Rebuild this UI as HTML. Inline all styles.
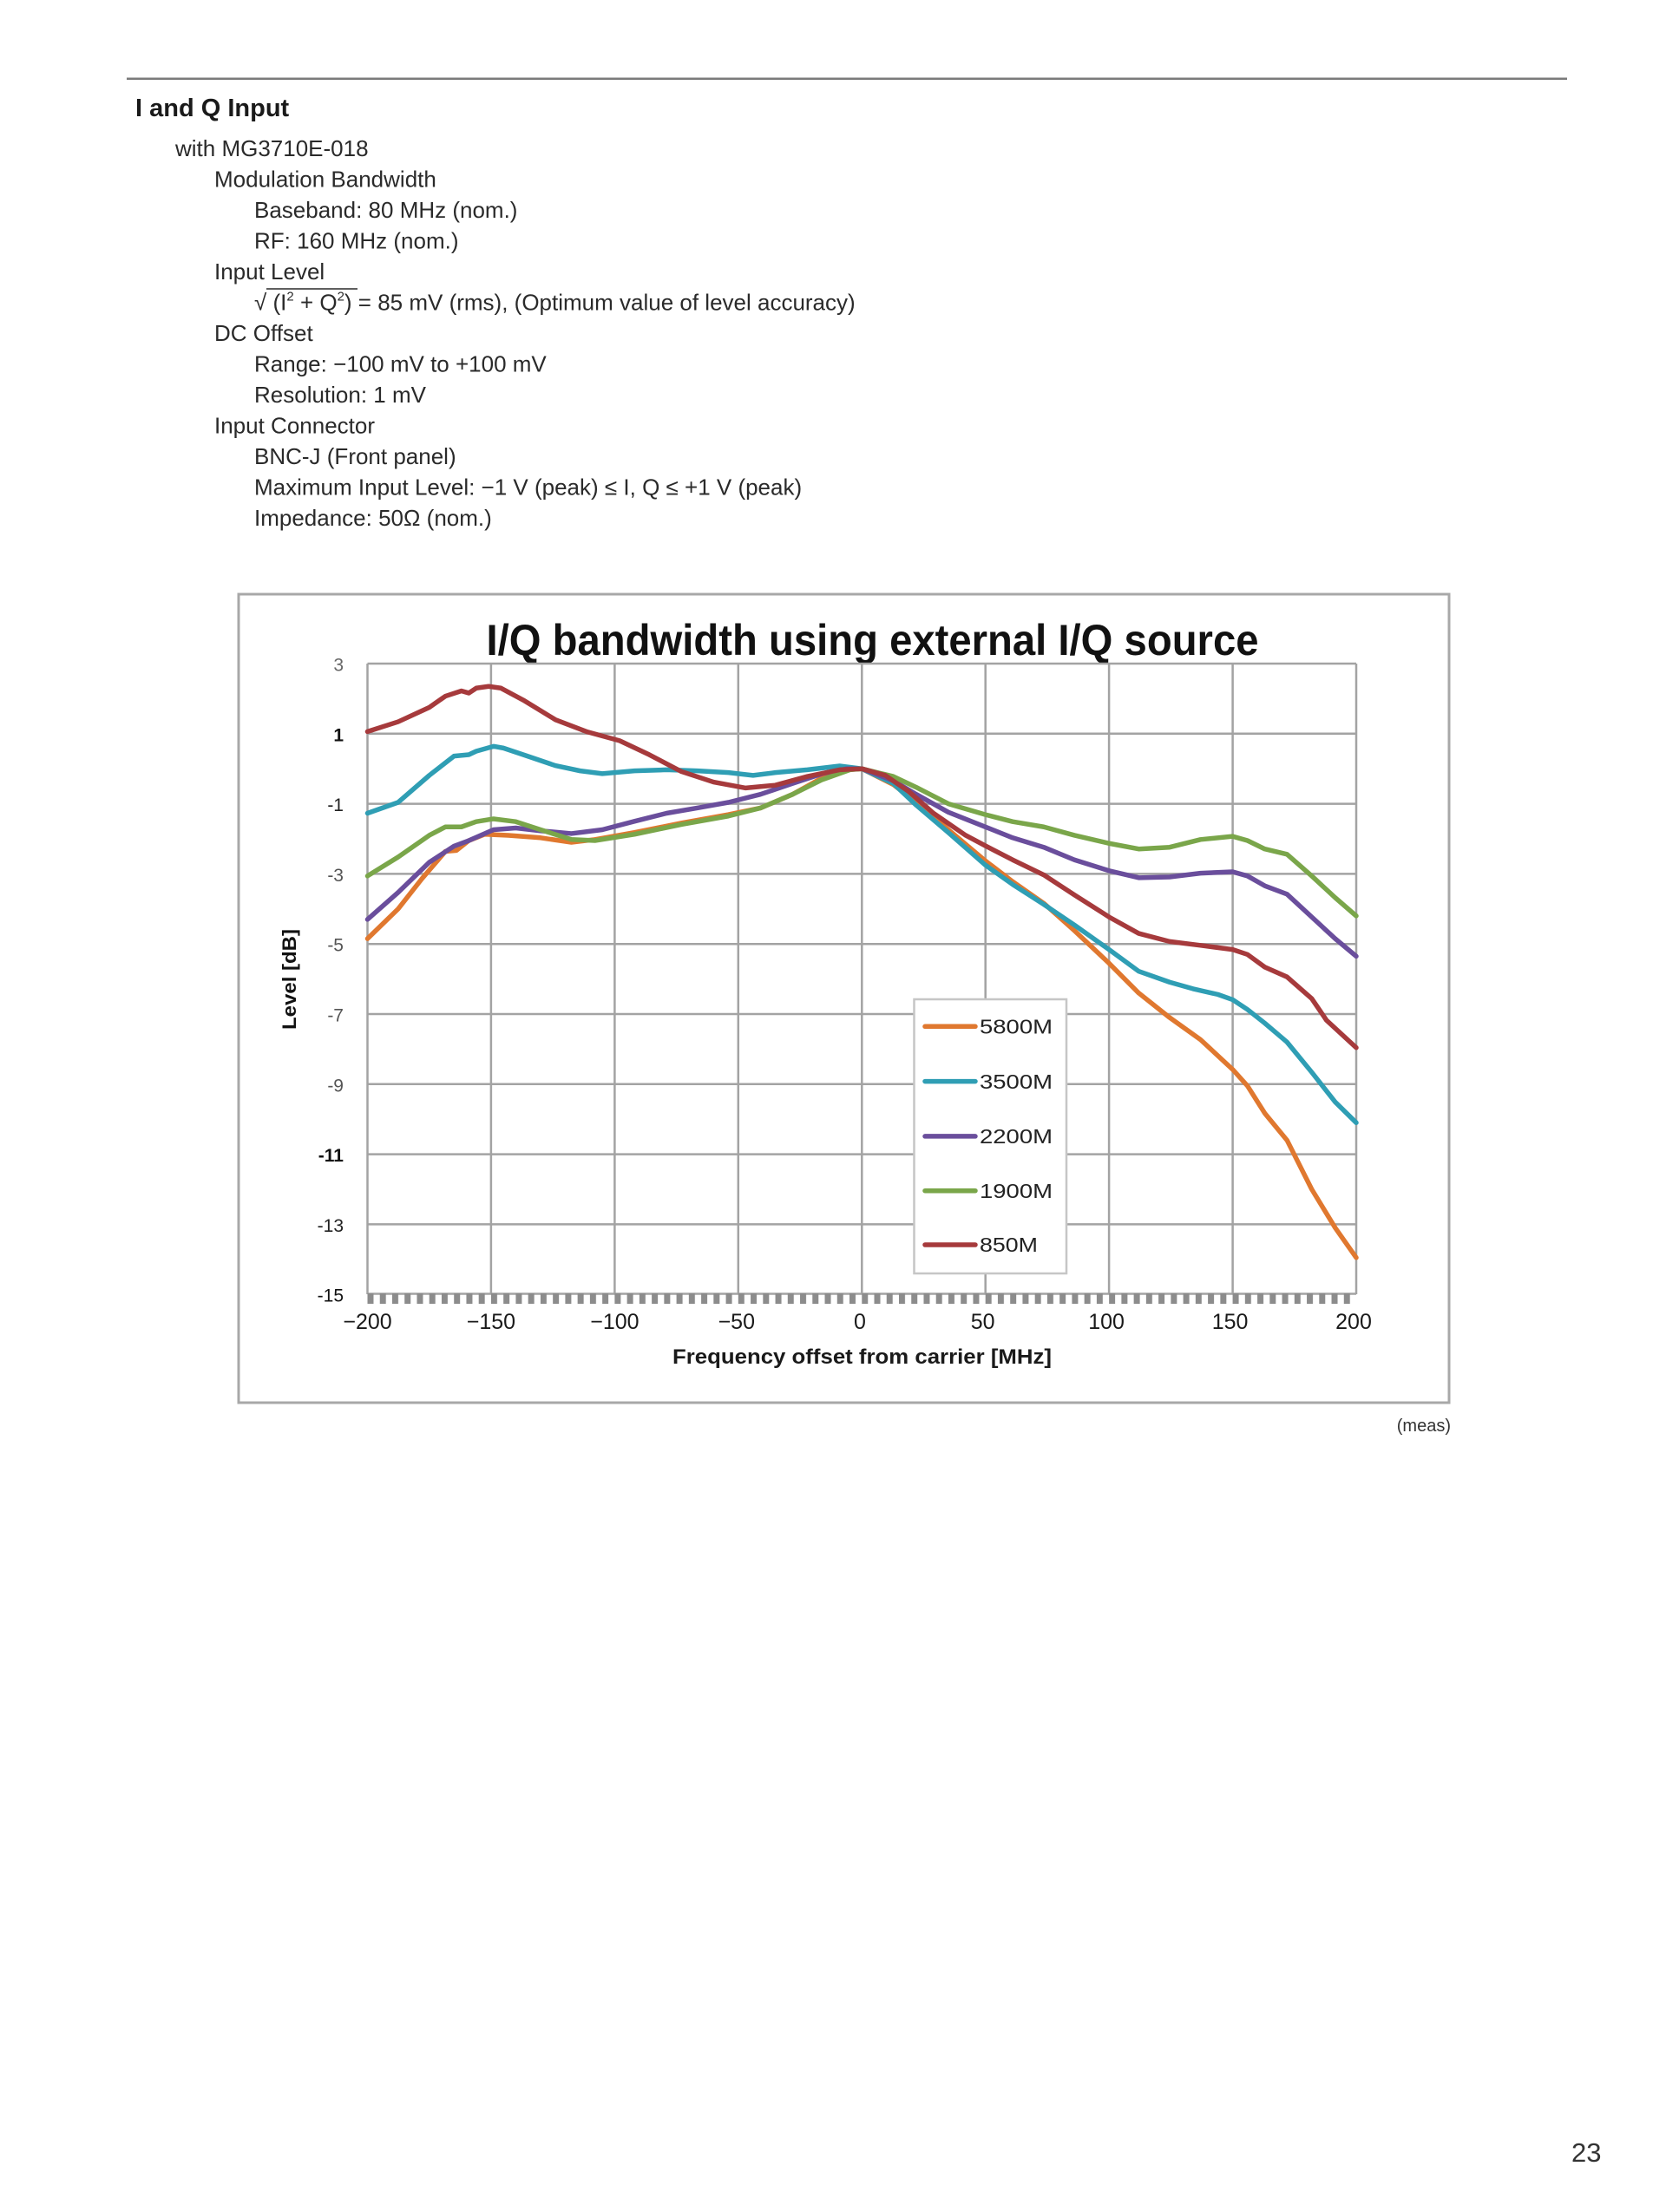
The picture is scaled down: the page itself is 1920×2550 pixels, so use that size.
<!DOCTYPE html>
<html>
<head>
<meta charset="utf-8">
<style>
html,body{margin:0;padding:0;background:#fff;}
svg{display:block;}
</style>
</head>
<body>
<svg width="1920" height="2550" viewBox="0 0 1920 2550" xmlns="http://www.w3.org/2000/svg" font-family="'Liberation Sans', Arial, sans-serif">
  <rect x="0" y="0" width="1920" height="2550" fill="#ffffff"/>

  <!-- header rule -->
  <line x1="146" y1="90.7" x2="1806" y2="90.7" stroke="#7a7a7a" stroke-width="2.5"/>

  <!-- heading -->
  <text x="156" y="134" font-size="29" font-weight="bold" fill="#1a1a1a">I and Q Input</text>

  <!-- body text -->
  <g font-size="26" fill="#2a2a2a">
    <text x="202" y="180">with MG3710E-018</text>
    <text x="247" y="215.5">Modulation Bandwidth</text>
    <text x="293" y="251">Baseband: 80 MHz (nom.)</text>
    <text x="293" y="286.5">RF: 160 MHz (nom.)</text>
    <text x="247" y="322">Input Level</text>
    <text x="293" y="357.5">√ (I<tspan font-size="15" dy="-11">2</tspan><tspan dy="11"> + Q</tspan><tspan font-size="15" dy="-11">2</tspan><tspan dy="11">)  = 85 mV (rms), (Optimum value of level accuracy)</tspan></text>
    <line x1="307" y1="333" x2="412" y2="333" stroke="#2a2a2a" stroke-width="1.5"/>
    <text x="247" y="393">DC Offset</text>
    <text x="293" y="428.5">Range: −100 mV to +100 mV</text>
    <text x="293" y="464">Resolution: 1 mV</text>
    <text x="247" y="499.5">Input Connector</text>
    <text x="293" y="535">BNC-J (Front panel)</text>
    <text x="293" y="570.5">Maximum Input Level: −1 V (peak) ≤ I, Q ≤ +1 V (peak)</text>
    <text x="293" y="606">Impedance: 50Ω (nom.)</text>
  </g>

  <!-- chart frame -->
  <rect x="275" y="685" width="1395" height="932" fill="#ffffff" stroke="#a8a8a8" stroke-width="3"/>

  <!-- title -->
  <text x="560.5" y="755" font-size="50" font-weight="bold" fill="#111" textLength="890" lengthAdjust="spacingAndGlyphs">I/Q bandwidth using external I/Q source</text>

  <!-- gridlines -->
  <g stroke="#a3a3a3" stroke-width="2.5" fill="none">
    <line x1="423.5" y1="765" x2="1563" y2="765"/>
    <line x1="423.5" y1="845.8" x2="1563" y2="845.8"/>
    <line x1="423.5" y1="926.6" x2="1563" y2="926.6"/>
    <line x1="423.5" y1="1007.4" x2="1563" y2="1007.4"/>
    <line x1="423.5" y1="1088.2" x2="1563" y2="1088.2"/>
    <line x1="423.5" y1="1169" x2="1563" y2="1169"/>
    <line x1="423.5" y1="1249.8" x2="1563" y2="1249.8"/>
    <line x1="423.5" y1="1330.6" x2="1563" y2="1330.6"/>
    <line x1="423.5" y1="1411.4" x2="1563" y2="1411.4"/>
    <line x1="423.5" y1="1491.5" x2="1563" y2="1491.5"/>
    <line x1="423.5" y1="765" x2="423.5" y2="1492"/>
    <line x1="565.9" y1="765" x2="565.9" y2="1492"/>
    <line x1="708.4" y1="765" x2="708.4" y2="1492"/>
    <line x1="850.8" y1="765" x2="850.8" y2="1492"/>
    <line x1="993.3" y1="765" x2="993.3" y2="1492"/>
    <line x1="1135.7" y1="765" x2="1135.7" y2="1492"/>
    <line x1="1278.1" y1="765" x2="1278.1" y2="1492"/>
    <line x1="1420.6" y1="765" x2="1420.6" y2="1492"/>
    <line x1="1563" y1="765" x2="1563" y2="1492"/>
  </g>

  <!-- minor ticks -->
  <defs>
    <pattern id="tk" x="423.5" y="0" width="14.244" height="40" patternUnits="userSpaceOnUse">
      <rect x="0" y="0" width="7" height="40" fill="#8c8c8c"/>
    </pattern>
  </defs>
  <rect x="423.5" y="1491" width="1139.5" height="12" fill="url(#tk)"/>

  <!-- y tick labels -->
  <g font-size="21" text-anchor="end">
    <text x="396" y="773.5" fill="#666">3</text>
    <text x="396" y="854.3" fill="#111" font-weight="bold">1</text>
    <text x="396" y="935.1" fill="#222">-1</text>
    <text x="396" y="1015.9" fill="#555">-3</text>
    <text x="396" y="1096.7" fill="#555">-5</text>
    <text x="396" y="1177.5" fill="#555">-7</text>
    <text x="396" y="1258.3" fill="#555">-9</text>
    <text x="396" y="1339.1" fill="#111" font-weight="bold">-11</text>
    <text x="396" y="1419.9" fill="#222">-13</text>
    <text x="396" y="1500.7" fill="#111">-15</text>
  </g>

  <!-- y axis title -->
  <text transform="translate(341,1129) rotate(-90)" text-anchor="middle" font-size="22" font-weight="bold" fill="#111" textLength="116" lengthAdjust="spacingAndGlyphs">Level [dB]</text>

  <!-- x tick labels -->
  <g font-size="25" text-anchor="middle" fill="#1a1a1a">
    <text x="423.5" y="1532">−200</text>
    <text x="565.9" y="1532">−150</text>
    <text x="708.4" y="1532">−100</text>
    <text x="848.8" y="1532">−50</text>
    <text x="991" y="1532">0</text>
    <text x="1132.7" y="1532">50</text>
    <text x="1275.1" y="1532">100</text>
    <text x="1417.6" y="1532">150</text>
    <text x="1560" y="1532">200</text>
  </g>

  <!-- x axis title -->
  <text x="775" y="1572" font-size="24" font-weight="bold" fill="#1a1a1a" textLength="437" lengthAdjust="spacingAndGlyphs">Frequency offset from carrier [MHz]</text>

  <!-- series -->
  <g transform="translate(423.5,765) scale(2.84875,-40.4) translate(200,-3)" fill="none" stroke-linejoin="round" stroke-linecap="round">
    <polyline vector-effect="non-scaling-stroke" stroke="#E0782F" stroke-width="5.5" points="-200,-4.85 -187.6,-4.0 -178,-3.14 -168.5,-2.36 -164,-2.33 -159,-2.05 -152.5,-1.87 -143,-1.9 -130,-1.97 -117.5,-2.1 -108,-2.02 -92,-1.82 -73,-1.55 -54,-1.31 -41,-1.12 -28,-0.73 -16,-0.26 -6,-0.03 0,0 12.7,-0.45 22,-0.96 35,-1.74 50,-2.63 61,-3.22 73.6,-3.84 86,-4.62 100,-5.55 112,-6.4 124.5,-7.1 137,-7.73 150,-8.58 156,-9.05 163,-9.83 172,-10.6 182,-12.0 191.5,-13.1 200,-13.95"/>
    <polyline vector-effect="non-scaling-stroke" stroke="#2F9EB4" stroke-width="5.5" points="-200,-1.27 -187.6,-0.96 -175,-0.19 -165,0.36 -159,0.4 -156,0.5 -149,0.64 -145,0.59 -137,0.4 -124,0.09 -114,-0.06 -105,-0.14 -92,-0.06 -79,-0.03 -66.6,-0.06 -54,-0.11 -44,-0.19 -35,-0.11 -22,-0.03 -9,0.08 0,0 12.7,-0.42 22,-1.04 35,-1.82 50,-2.75 61,-3.3 73.6,-3.87 86,-4.46 100,-5.16 112,-5.78 124.5,-6.09 134,-6.28 144,-6.44 150,-6.59 156,-6.87 163,-7.26 172,-7.8 182,-8.66 191.5,-9.51 200,-10.1"/>
    <polyline vector-effect="non-scaling-stroke" stroke="#6A4E9C" stroke-width="5.5" points="-200,-4.3 -187.6,-3.53 -175,-2.67 -165,-2.21 -159,-2.05 -149,-1.74 -140,-1.69 -130,-1.77 -117.5,-1.85 -105,-1.74 -92,-1.5 -79,-1.27 -66.6,-1.12 -54,-0.96 -41,-0.73 -28,-0.42 -16,-0.14 -6,0 0,0 12.7,-0.34 22,-0.73 35,-1.24 50,-1.66 61,-1.97 73.6,-2.24 86,-2.6 100,-2.91 112,-3.11 124.5,-3.09 137,-2.98 150,-2.94 156,-3.06 163,-3.34 172,-3.58 182,-4.23 191.5,-4.85 200,-5.35"/>
    <polyline vector-effect="non-scaling-stroke" stroke="#7AA64A" stroke-width="5.5" points="-200,-3.06 -187.6,-2.52 -175,-1.9 -168.5,-1.66 -162,-1.66 -156,-1.51 -149,-1.43 -140,-1.51 -130,-1.74 -117.5,-2.02 -108,-2.05 -92,-1.87 -73,-1.59 -54,-1.35 -41,-1.12 -28,-0.73 -16,-0.31 -4.8,-0.03 0,0 12.7,-0.22 22,-0.53 35,-1.0 50,-1.31 61,-1.51 73.6,-1.66 86,-1.9 100,-2.13 112,-2.29 124.5,-2.24 137,-2.02 150,-1.93 156,-2.05 163,-2.29 172,-2.44 182,-3.06 191.5,-3.68 200,-4.2"/>
    <polyline vector-effect="non-scaling-stroke" stroke="#A63A3C" stroke-width="5.5" points="-200,1.06 -187.6,1.34 -175,1.75 -168.5,2.07 -162,2.22 -159,2.16 -156,2.3 -151,2.35 -146,2.3 -137,1.96 -124,1.4 -111,1.05 -98,0.8 -86,0.4 -73,-0.08 -60,-0.38 -47,-0.55 -35,-0.47 -22,-0.22 -9,-0.03 0,0 9.5,-0.19 19,-0.65 29,-1.27 42,-1.9 50,-2.2 61,-2.6 73.6,-3.03 86,-3.6 100,-4.23 112,-4.7 124.5,-4.93 137,-5.04 150,-5.16 156,-5.3 163,-5.66 172,-5.94 182,-6.56 188,-7.18 200,-7.96"/>
  </g>

  <!-- legend -->
  <rect x="1053.5" y="1152" width="175.5" height="316" fill="#ffffff" stroke="#c6c6c6" stroke-width="2.5"/>
  <g stroke-width="5.5" stroke-linecap="round">
    <line x1="1066" y1="1183.3" x2="1124" y2="1183.3" stroke="#E0782F"/>
    <line x1="1066" y1="1246.6" x2="1124" y2="1246.6" stroke="#2F9EB4"/>
    <line x1="1066" y1="1309.9" x2="1124" y2="1309.9" stroke="#6A4E9C"/>
    <line x1="1066" y1="1372.7" x2="1124" y2="1372.7" stroke="#7AA64A"/>
    <line x1="1066" y1="1435" x2="1124" y2="1435" stroke="#A63A3C"/>
  </g>
  <g font-size="23" fill="#222">
    <text x="1129" y="1191.5" textLength="84" lengthAdjust="spacingAndGlyphs">5800M</text>
    <text x="1129" y="1254.8" textLength="84" lengthAdjust="spacingAndGlyphs">3500M</text>
    <text x="1129" y="1318.1" textLength="84" lengthAdjust="spacingAndGlyphs">2200M</text>
    <text x="1129" y="1380.9" textLength="84" lengthAdjust="spacingAndGlyphs">1900M</text>
    <text x="1129" y="1443.2" textLength="67" lengthAdjust="spacingAndGlyphs">850M</text>
  </g>

  <!-- (meas) -->
  <text x="1672" y="1650" font-size="20" fill="#333" text-anchor="end">(meas)</text>

  <!-- page number -->
  <text x="1811" y="2492" font-size="31" fill="#333">23</text>
</svg>
</body>
</html>
